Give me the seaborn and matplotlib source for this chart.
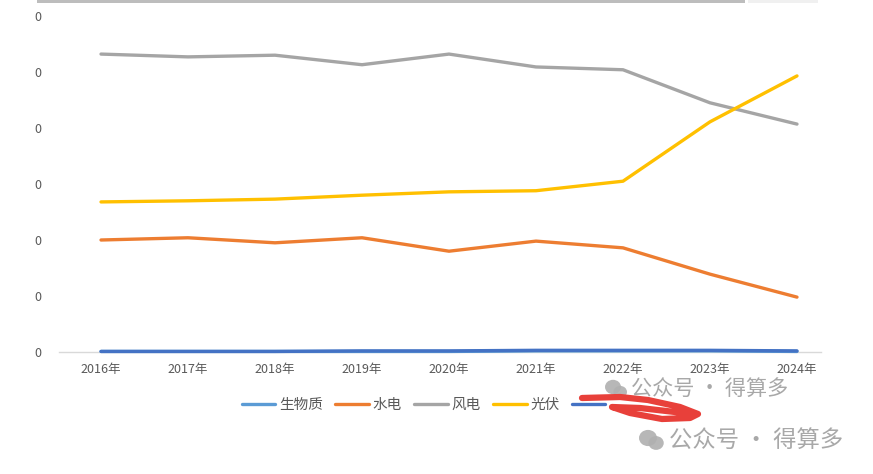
import matplotlib
matplotlib.use("Agg")
import matplotlib.pyplot as plt
import seaborn as sns
import pandas as pd
from matplotlib.lines import Line2D
from matplotlib.patches import Ellipse, Rectangle

years = ["2016年", "2017年", "2018年", "2019年", "2020年", "2021年", "2022年", "2023年", "2024年"]
biomass = [0.1, 0.1, 0.1, 0.1, 0.1, 0.2, 0.2, 0.2, 0.1]
hydro = [20.0, 20.4, 19.5, 20.4, 18.0, 19.8, 18.6, 13.9, 9.8]
wind = [53.2, 52.7, 53.0, 51.3, 53.2, 50.9, 50.4, 44.5, 40.7]
solar = [26.8, 27.0, 27.3, 28.0, 28.6, 28.8, 30.5, 41.1, 49.3]
other = [0.1, 0.1, 0.1, 0.2, 0.2, 0.3, 0.3, 0.3, 0.2]
series_names = ["生物质", "水电", "风电", "光伏", " "]
ytick_vals = [0, 10, 20, 30, 40, 50, 60]
ytick_labels = ["0", "0", "0", "0", "0", "0", "0"]

colors = ["#5B9BD5", "#ED7D31", "#A5A5A5", "#FFC000", "#4472C4"]

rows = []
for name, vals in zip(series_names, [biomass, hydro, wind, solar, other]):
    for y, v in zip(years, vals):
        rows.append({"year": y, "value": v, "series": name})
df = pd.DataFrame(rows)

sns.set_style("white")
plt.rcParams["font.family"] = ["Noto Sans CJK SC", "DejaVu Sans"]

W, H = 873, 474
fig = plt.figure(figsize=(W / 100, H / 100), dpi=100)
ax = fig.add_axes([59 / W, (H - 352) / H, (821 - 59) / W, 336 / H])

sns.lineplot(data=df, x="year", y="value", hue="series", palette=colors,
             hue_order=series_names, linewidth=2.4, ax=ax, legend=False,
             sort=False)
for ln in ax.lines:
    ln.set_clip_on(False)
    ln.set_solid_capstyle("round")

ax.set_xlim(-0.483, 8.276)
ax.set_ylim(0, 60)
ax.set_yticks(ytick_vals)
ax.set_yticklabels(ytick_labels)
ax.set_xlabel("")
ax.set_ylabel("")
ax.tick_params(axis="both", length=0, labelsize=9, colors="#595959")
ax.tick_params(axis="y", pad=13)
ax.tick_params(axis="x", pad=8)
for s in ["top", "right", "left"]:
    ax.spines[s].set_visible(False)
ax.spines["bottom"].set_color("#D9D9D9")
ax.spines["bottom"].set_linewidth(1)
ax.spines["bottom"].set_zorder(0)
ax.grid(False)

handles = [Line2D([], [], color=c, lw=2.4) for c in colors]
fig.legend(handles, series_names, loc="center left",
           bbox_to_anchor=(236 / W, (H - 405) / H), borderaxespad=0,
           ncol=5, frameon=False, fontsize=10.5, handlelength=2.3, handletextpad=0.25,
           columnspacing=0.85, labelcolor="#595959")

# top bar artifact
fig.add_artist(Rectangle((37 / W, 1 - 3 / H), (745 - 37) / W, 3 / H,
                         transform=fig.transFigure, color="#BDBDBD", lw=0))
fig.add_artist(Rectangle((748 / W, 1 - 3 / H), (818 - 748) / W, 3 / H,
                         transform=fig.transFigure, color="#F0F0F0", lw=0))

# red scribble
sx = [582, 620, 648, 680, 698, 690, 662, 630, 612, 640, 675, 692]
sy = [398, 397, 400, 407, 414, 418, 419, 413, 407, 408, 412, 414]
fig.add_artist(Line2D([x / W for x in sx], [1 - y / H for y in sy],
                      transform=fig.transFigure, color="#E8403A", lw=4.5,
                      solid_capstyle="round", solid_joinstyle="round"))


def watermark(x_icon, y, size, fs):
    for dx, dy, r in [(0, -2, size), (size * 0.9, 3, size * 0.85)]:
        fig.add_artist(Ellipse(((x_icon + dx) / W, 1 - (y + dy) / H), 2 * r / W, 1.8 * r / H,
                               transform=fig.transFigure, color="#B0B0B0", lw=0, alpha=0.9))
    fig.text((x_icon + size * 2.3) / W, 1 - y / H, "公众号 · 得算多", fontsize=fs,
             color="#A8A8A8", va="center", ha="left")


watermark(613, 389, 8, 15.2)
watermark(648, 440, 9, 16.8)

fig.savefig("out.png", dpi=100)
